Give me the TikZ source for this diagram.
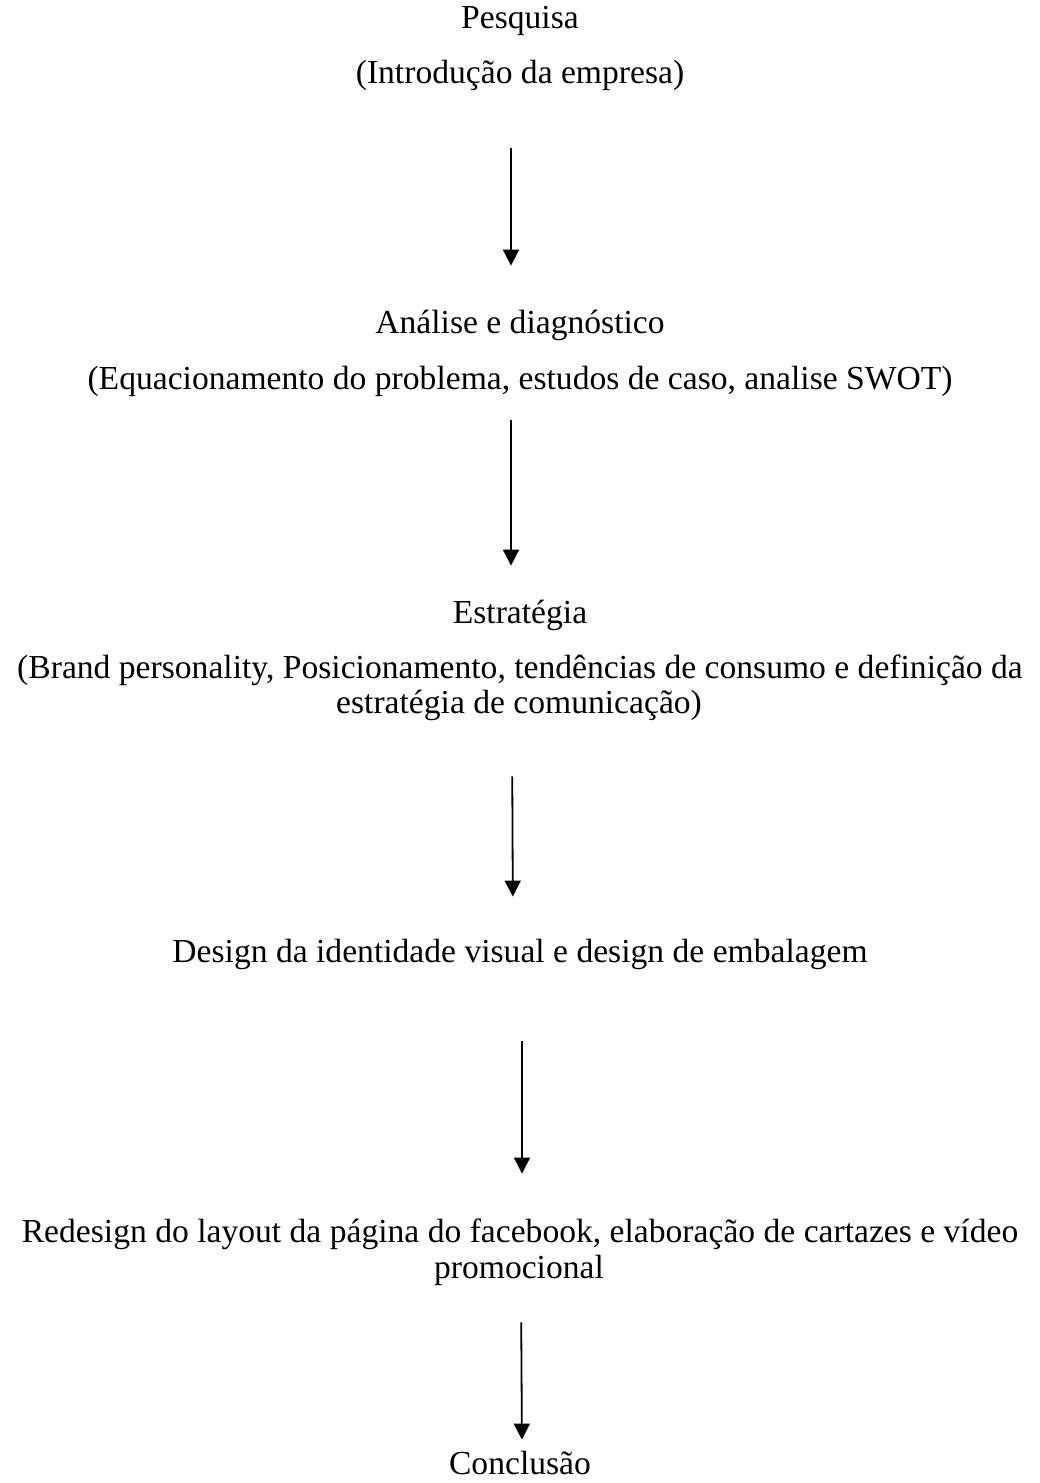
\documentclass[tikz,border=0pt]{standalone}
\usepackage{fontspec}
\setmainfont{Liberation Serif}
\usepackage{tikz}
\usetikzlibrary{arrows.meta}

\begin{document}
\begin{tikzpicture}[x=0.5pt,y=-0.5pt,
  every node/.style={font=\fontsize{16.8}{17.5}\selectfont},
  nd/.style={inner sep=0pt,text height=12pt,text depth=4pt,align=center},
  arr/.style={line width=0.9pt,-{Triangle[width=8pt,length=8pt]}}]
 \useasboundingbox (0,0) rectangle (1039,1483);
 \node[nd] (t1) at (520,20) {Pesquisa};
 \node[nd] (s1) at (520,75) {(Introdução da empresa)};
 \node[nd] (t2) at (520,325) {Análise e diagnóstico};
 \node[nd] (s2) at (520,381) {(Equacionamento do problema, estudos de caso, analise SWOT)};
 \node[nd] (t3) at (520,615) {Estratégia};
 \node[nd] (s3) at (520,670) {(Brand personality, Posicionamento, tendências de consumo e definição da};
 \node[nd] (s3b) at (519,705) {estratégia de comunicação)};
 \node[nd] (t4) at (520,954) {Design da identidade visual e design de embalagem};
 \node[nd] (t5) at (520,1234) {Redesign do layout da página do facebook, elaboração de cartazes e vídeo};
 \node[nd] (t5b) at (519,1270) {promocional};
 \node[nd] (t6) at (520,1466) {Conclusão};
 \foreach \a/\b/\dx/\s/\e in {s1/t2/-4.5/28.5/21.5,s2/t3/-4.5/11.5/16.5,s3b/t4/-3.5/27.5/20.5,t4/t5/1/35.5/22,t5b/t6/1/18/5}
   \draw[arr,shorten <=\s pt,shorten >=\e pt] ([xshift=\dx pt]\a.south) -- ([xshift=\dx pt]\b.north);
\end{tikzpicture}
\end{document}
